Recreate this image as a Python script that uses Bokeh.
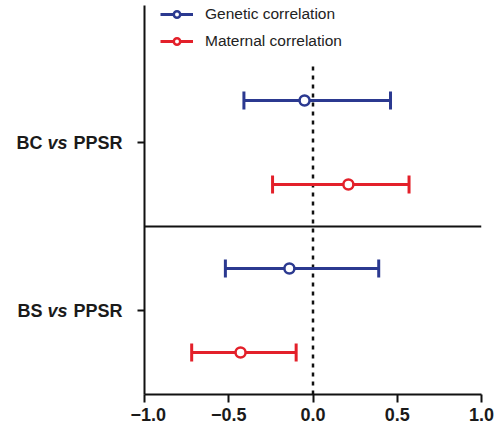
from bokeh.plotting import figure
from bokeh.layouts import row
from bokeh.models import (Range1d, FixedTicker, Whisker, TeeHead, Span,
                          Legend, LegendItem, ColumnDataSource)
from bokeh.core.properties import value
from bokeh.embed import file_html
from bokeh.resources import INLINE

# ---- data ----
comparisons = ["BC vs PPSR", "BS vs PPSR"]
label_first = ["BC", "BS"]
label_mid = ["vs", "vs"]
label_last = ["PPSR", "PPSR"]
series_names = ["Genetic correlation", "Maternal correlation"]
genetic_y = [4, 2]
maternal_y = [3, 1]
genetic_est = [-0.05, -0.14]
genetic_lo = [-0.41, -0.52]
genetic_hi = [0.46, 0.39]
maternal_est = [0.21, -0.43]
maternal_lo = [-0.24, -0.72]
maternal_hi = [0.57, -0.10]
category_y = [3.5, 1.5]
separator_y = 2.5
x_ticks = [-1.0, -0.5, 0.0, 0.5, 1.0]
x_tick_labels = ["\u22121.0", "\u22120.5", "0.0", "0.5", "1.0"]
ref_x = 0.0
ref_top = 4.45

BLUE = "#2B3990"
RED = "#E3202A"
FONT = "Liberation Sans"
INK = "#1a1a1a"

H = 435
TOP = 5
BOTTOM = 41
LW = 130  # width of label panel

y_lo, y_hi = 0.5, 5.131

# ---- label panel ----
lab = figure(width=LW, height=H, output_backend="svg", toolbar_location=None,
             x_range=Range1d(0, LW), y_range=Range1d(y_lo, y_hi),
             min_border_left=0, min_border_right=0, min_border_top=TOP,
             min_border_bottom=BOTTOM)
lab.axis.visible = False
lab.grid.visible = False
lab.outline_line_color = None
common = dict(text_font=value(FONT), text_font_size="18px", text_color=INK,
              text_baseline="middle", text_align="right")
lab.text(x=[42] * len(category_y), y=category_y, text=label_first,
         text_font_style="bold", **common)
lab.text(x=[67] * len(category_y), y=category_y, text=label_mid,
         text_font_style="bold italic", **common)
lab.text(x=[122] * len(category_y), y=category_y, text=label_last,
         text_font_style="bold", **common)

# ---- main plot ----
p = figure(width=498 - LW, height=H, output_backend="svg", toolbar_location=None,
           x_range=Range1d(-1.0, 1.0), y_range=Range1d(y_lo, y_hi),
           min_border_left=144 - LW, min_border_right=17, min_border_top=TOP,
           min_border_bottom=BOTTOM)
p.outline_line_color = None
p.xgrid.visible = False
p.ygrid.visible = False

p.xaxis.ticker = FixedTicker(ticks=x_ticks)
p.xaxis.major_label_overrides = {t: l for t, l in zip(x_ticks, x_tick_labels)}
p.xaxis.major_label_text_font = FONT
p.xaxis.major_label_text_font_style = "bold"
p.xaxis.major_label_text_font_size = "18px"
p.xaxis.major_label_text_color = INK
p.xaxis.major_label_standoff = 5
p.xaxis.axis_line_width = 2
p.xaxis.major_tick_line_width = 2
p.xaxis.major_tick_out = 8
p.xaxis.major_tick_in = 0
p.xaxis.minor_tick_line_color = None
p.xaxis.axis_line_color = "#111111"
p.xaxis.major_tick_line_color = "#111111"

p.yaxis.ticker = FixedTicker(ticks=category_y)
p.yaxis.major_label_text_font_size = "0px"
p.yaxis.major_label_text_color = None
p.yaxis.axis_line_width = 2
p.yaxis.major_tick_line_width = 2
p.yaxis.major_tick_out = 7
p.yaxis.major_tick_in = 0
p.yaxis.minor_tick_line_color = None
p.yaxis.axis_line_color = "#111111"
p.yaxis.major_tick_line_color = "#111111"

p.add_layout(Span(location=separator_y, dimension="width", line_color="#111111", line_width=2))
p.segment(x0=[ref_x], y0=[y_lo], x1=[ref_x], y1=[ref_top], line_color="#111111",
          line_width=2.5, line_dash="4 5")

def draw(ys, est, lo, hi, color):
    src = ColumnDataSource(dict(y=ys, est=est, lo=lo, hi=hi))
    seg = p.segment(x0="lo", y0="y", x1="hi", y1="y", source=src, line_color=color, line_width=3)
    w = Whisker(base="y", lower="lo", upper="hi", dimension="width", source=src,
                line_color=color, line_width=3,
                lower_head=TeeHead(size=18, line_color=color, line_width=3),
                upper_head=TeeHead(size=18, line_color=color, line_width=3))
    p.add_layout(w)
    sc = p.scatter(x="est", y="y", source=src, size=10, fill_color="white",
                   line_color=color, line_width=2.5)
    return seg, sc

g = draw(genetic_y, genetic_est, genetic_lo, genetic_hi, BLUE)
m = draw(maternal_y, maternal_est, maternal_lo, maternal_hi, RED)

legend = Legend(items=[LegendItem(label=series_names[0], renderers=list(g)),
                       LegendItem(label=series_names[1], renderers=list(m))],
                location=(16, 344), orientation="vertical",
                glyph_width=33, glyph_height=16, label_height=16, spacing=9,
                label_standoff=12, padding=0, margin=0,
                label_text_font=FONT, label_text_font_size="15.5px",
                label_text_color="#222222",
                border_line_color=None, background_fill_alpha=0)
p.add_layout(legend, "center")

layout = row(lab, p)
open("out.html", "w").write(file_html(layout, INLINE))
